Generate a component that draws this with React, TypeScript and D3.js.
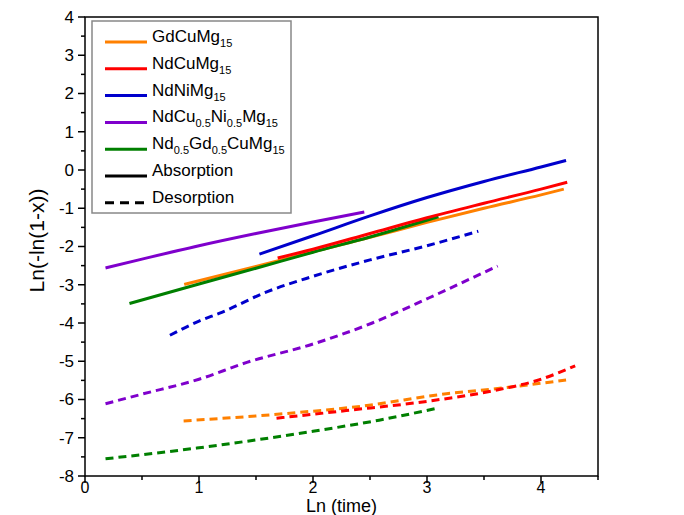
import React from "react";
import * as d3 from "d3";

type Pt = [number, number];

// Absorption (solid)
const gdCuAbs: Pt[] = [[0.87, -2.99], [1.5, -2.52], [2.0, -2.14], [2.5, -1.76], [3.0, -1.37], [3.5, -1.0], [4.0, -0.65], [4.2, -0.5]];
const ndCuAbs: Pt[] = [[1.69, -2.3], [2.0, -2.07], [2.5, -1.66], [3.0, -1.25], [3.5, -0.87], [4.0, -0.5], [4.23, -0.32]];
const ndNiAbs: Pt[] = [[1.53, -2.2], [2.0, -1.72], [2.5, -1.2], [3.0, -0.72], [3.5, -0.3], [4.0, 0.08], [4.22, 0.25]];
const ndCuNiAbs: Pt[] = [[0.18, -2.56], [0.5, -2.33], [1.0, -1.98], [1.5, -1.66], [2.0, -1.36], [2.45, -1.1]];
const ndGdAbs: Pt[] = [[0.39, -3.49], [1.0, -2.98], [1.5, -2.57], [2.0, -2.15], [2.5, -1.75], [3.1, -1.22]];

// Desorption (dashed)
const gdCuDes: Pt[] = [[0.865, -6.56], [1.71, -6.38], [2.44, -6.17], [3.17, -5.85], [3.6, -5.72], [4.22, -5.49]];
const ndCuDes: Pt[] = [[1.68, -6.49], [2.29, -6.29], [3.02, -6.04], [3.6, -5.76], [3.98, -5.49], [4.3, -5.12]];
const ndNiDes: Pt[] = [[0.745, -4.32], [1.0, -3.95], [1.2, -3.72], [1.6, -3.18], [2.0, -2.78], [2.5, -2.35], [3.0, -1.98], [3.45, -1.6]];
const ndCuNiDes: Pt[] = [[0.18, -6.11], [0.5, -5.86], [1.0, -5.47], [1.42, -5.03], [2.0, -4.55], [2.52, -4.0], [3.02, -3.34], [3.62, -2.51]];
const ndGdDes: Pt[] = [[0.18, -7.55], [0.98, -7.27], [2.0, -6.83], [2.58, -6.54], [3.1, -6.22]];

const xTicks = [0, 1, 2, 3, 4];
const yTicks = [4, 3, 2, 1, 0, -1, -2, -3, -4, -5, -6, -7, -8];

const colors = {
  gd: "#FF8000",
  ndCu: "#FF0000",
  ndNi: "#0000CC",
  ndCuNi: "#7F00CC",
  ndGd: "#007F00",
};

const series = [
  { data: gdCuAbs, color: colors.gd, dashed: false },
  { data: ndGdAbs, color: colors.ndGd, dashed: false },
  { data: ndCuAbs, color: colors.ndCu, dashed: false },
  { data: ndNiAbs, color: colors.ndNi, dashed: false },
  { data: ndCuNiAbs, color: colors.ndCuNi, dashed: false },
  { data: gdCuDes, color: colors.gd, dashed: true },
  { data: ndCuDes, color: colors.ndCu, dashed: true },
  { data: ndNiDes, color: colors.ndNi, dashed: true },
  { data: ndCuNiDes, color: colors.ndCuNi, dashed: true },
  { data: ndGdDes, color: colors.ndGd, dashed: true },
];

// legend: [text, subscript] parts
const legendItems: { parts: [string, boolean][]; color: string; dashed: boolean }[] = [
  { parts: [["GdCuMg", false], ["15", true]], color: colors.gd, dashed: false },
  { parts: [["NdCuMg", false], ["15", true]], color: colors.ndCu, dashed: false },
  { parts: [["NdNiMg", false], ["15", true]], color: colors.ndNi, dashed: false },
  { parts: [["NdCu", false], ["0.5", true], ["Ni", false], ["0.5", true], ["Mg", false], ["15", true]], color: colors.ndCuNi, dashed: false },
  { parts: [["Nd", false], ["0.5", true], ["Gd", false], ["0.5", true], ["CuMg", false], ["15", true]], color: colors.ndGd, dashed: false },
  { parts: [["Absorption", false]], color: "#000", dashed: false },
  { parts: [["Desorption", false]], color: "#000", dashed: true },
];

const W = 684, H = 515;
const L = 85, R = 598, T = 17, B = 476;

export default function App() {
  const x = d3.scaleLinear().domain([0, 4.5]).range([L, R]);
  const y = d3.scaleLinear().domain([-8, 4]).range([B, T]);
  const line = d3.line<Pt>().x(d => x(d[0])).y(d => y(d[1])).curve(d3.curveMonotoneX);
  const font = "'Liberation Sans', Arial, sans-serif";
  const xMinor = d3.range(0, 4.51, 0.5);
  const yMinor = d3.range(-8, 4.01, 0.5);

  return (
    <svg width={W} height={H} style={{ position: "absolute", left: 0, top: 0, background: "#fff" }} fontFamily={font}>
      <rect x={0} y={0} width={W} height={H} fill="#fff" />
      {series.map((s, i) => (
        <path key={i} d={line(s.data) || ""} fill="none" stroke={s.color} strokeWidth={3}
          strokeDasharray={s.dashed ? "8,5" : undefined} />
      ))}
      {/* frame */}
      <rect x={L} y={T} width={R - L} height={B - T} fill="none" stroke="#000" strokeWidth={1.5} />
      {/* y ticks */}
      {yMinor.map(v => (
        <line key={"ym" + v} x1={L} x2={L - (Number.isInteger(v) ? 7 : 4)} y1={y(v)} y2={y(v)} stroke="#000" strokeWidth={1.5} />
      ))}
      {yTicks.map(v => (
        <text key={"yt" + v} x={L - 11} y={y(v)} dy="0.35em" textAnchor="end" fontSize={17}>{v}</text>
      ))}
      {/* x ticks */}
      {xMinor.map(v => (
        <line key={"xm" + v} y1={B} y2={B + (Number.isInteger(v) ? 7 : 4)} x1={x(v)} x2={x(v)} stroke="#000" strokeWidth={1.5} />
      ))}
      {xTicks.map(v => (
        <text key={"xt" + v} x={x(v)} y={B + 17} textAnchor="middle" fontSize={16}>{v}</text>
      ))}
      <text x={(L + R) / 2} y={512} textAnchor="middle" fontSize={18}>Ln (time)</text>
      <text transform={`translate(${L - 41},${(T + B) / 2 - 6}) rotate(-90)`} textAnchor="middle" fontSize={21}>Ln(-ln(1-x))</text>
      {/* legend */}
      <rect x={92} y={21} width={199} height={192} fill="#fff" stroke="#888" strokeWidth={1.5} />
      {legendItems.map((it, i) => {
        const yy = 42 + i * 26.8;
        return (
          <g key={"lg" + i}>
            <line x1={105} x2={147} y1={yy} y2={yy} stroke={it.color} strokeWidth={3}
              strokeDasharray={it.dashed ? "9,6" : undefined} />
            <text x={152} y={yy} dy="0.35em" fontSize={17}>
              {it.parts.map((p, j) => (
                p[1]
                  ? <tspan key={j} fontSize={11} dy={5}>{p[0]}</tspan>
                  : <tspan key={j} dy={j > 0 && it.parts[j - 1][1] ? -5 : 0}>{p[0]}</tspan>
              ))}
            </text>
          </g>
        );
      })}
    </svg>
  );
}
